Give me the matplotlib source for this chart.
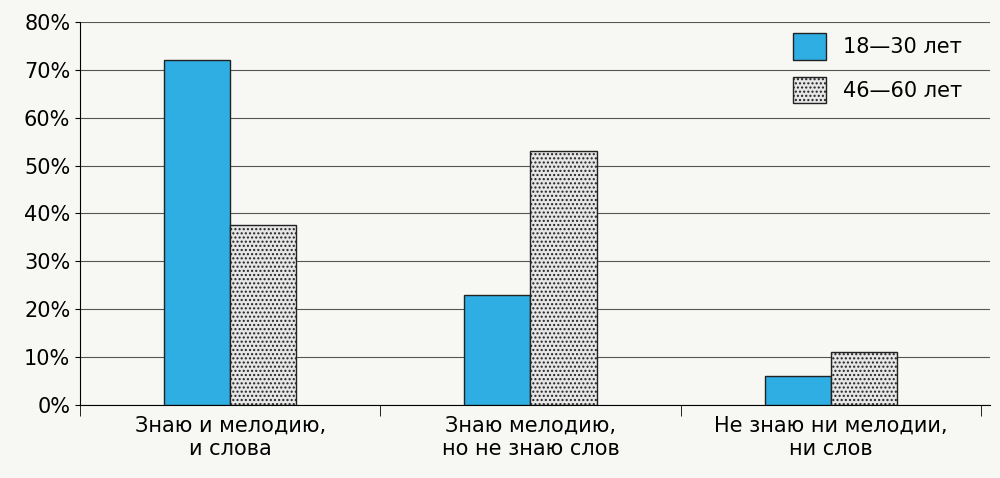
import matplotlib
matplotlib.use("Agg")
import matplotlib.pyplot as plt
import numpy as np

categories = ["Знаю и мелодию,\nи слова", "Знаю мелодию,\nно не знаю слов", "Не знаю ни мелодии,\nни слов"]
series_names = ["18—30 лет", "46—60 лет"]
young = [72, 23, 6]
old = [37.5, 53, 11]
yticks = [0, 10, 20, 30, 40, 50, 60, 70, 80]

fig = plt.figure(figsize=(10, 4.78), dpi=100)
fig.patch.set_facecolor("#f7f7f4")
ax = fig.add_axes([0.08, 0.153, 0.91, 0.801])
ax.set_facecolor("#f7f7f4")
x = np.arange(len(categories))
w = 0.22
ax.bar(x - w/2, young, w, color="#2eaee3", edgecolor="#222222", linewidth=1, label=series_names[0], zorder=3)
ax.bar(x + w/2, old, w, color="#e6e6e6", edgecolor="#222222", linewidth=1, hatch="....", label=series_names[1], zorder=3)
ax.set_ylim(0, 80)
ax.set_xlim(-0.5, 2.53)
ax.set_yticks(yticks)
ax.set_yticklabels([f"{t}%" for t in yticks], fontsize=15)
ax.yaxis.grid(True, color="#555555", linewidth=0.8, zorder=0)
ax.set_xticks(x)
ax.set_xticklabels(categories, fontsize=15)
ax.tick_params(axis="x", length=0, pad=8)
ax.set_xticks([-0.5, 0.5, 1.5, 2.5], minor=True)
ax.tick_params(axis="x", which="minor", length=8, direction="out")
for s in ["top", "right"]:
    ax.spines[s].set_visible(False)
leg = ax.legend(loc="upper right", bbox_to_anchor=(0.99, 1.02), fontsize=15, frameon=False,
                handlelength=1.6, handleheight=1.6, labelspacing=0.8)
fig.savefig("out.png", dpi=100, facecolor=fig.get_facecolor())
